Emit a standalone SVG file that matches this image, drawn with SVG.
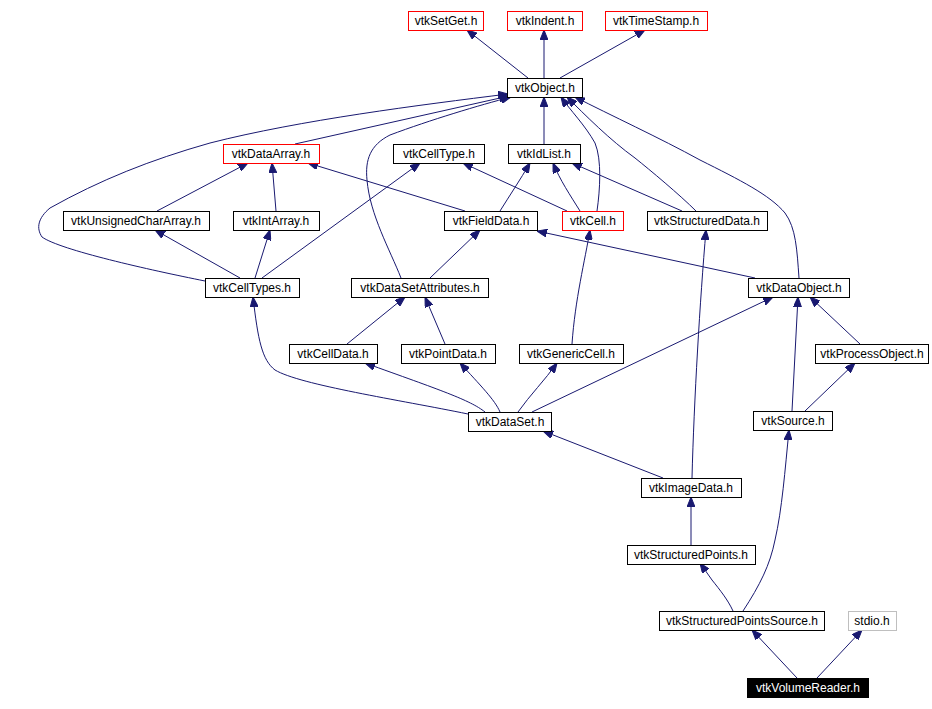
<svg xmlns="http://www.w3.org/2000/svg" width="932" height="709" viewBox="0 0 932 709">
<style>
.n rect{fill:#fff;stroke:#000;stroke-width:1}
.n.r rect{stroke:#ff0000}
.n.g rect{stroke:#bfbfbf}
.n.k rect{fill:#000}
.n text{font-family:"Liberation Sans",Arial,sans-serif;font-size:12px;fill:#000;text-anchor:middle}
.n.k text{fill:#fff}
#edges path{fill:none;stroke:#191970;stroke-width:1;marker-end:url(#a)}
</style>
<defs>
<marker id="a" viewBox="0 0 10 8" refX="10" refY="4" markerWidth="10" markerHeight="8" markerUnits="userSpaceOnUse" orient="auto"><path d="M0,0 L10,4 L0,8 z" fill="#191970" stroke="#191970"/></marker>
</defs>
<rect width="932" height="709" fill="#fff"/>
<g id="edges">
<path d="M528,78 L467,30"/>
<path d="M544,78 L544,30"/>
<path d="M560,78 L645,30"/>
<path d="M205,281 C150,270 60,250 42,237 C36,228 38,218 50,208 C100,180 150,160 210,143 C300,120 420,105 508,94"/>
<path d="M295,144 L509,96"/>
<path d="M401,278 C390,250 370,215 367,180 C365,160 370,145 390,135 C430,120 480,105 511,97"/>
<path d="M544,144 L544,97"/>
<path d="M597,211 C600,190 602,160 595,143 C585,125 570,110 561,97"/>
<path d="M696,211 C680,195 650,170 635,158 C610,140 585,115 567,97"/>
<path d="M799,278 C797,250 796,228 785,213 C770,195 740,180 700,160 C660,138 610,115 575,97"/>
<path d="M500,211 C510,195 520,180 530,163"/>
<path d="M580,211 C570,195 560,180 553,163"/>
<path d="M682,211 L572,163"/>
<path d="M567,211 L463,163"/>
<path d="M262,278 L420,163"/>
<path d="M157,211 L248,163"/>
<path d="M276,211 L272,163"/>
<path d="M465,211 L308,163"/>
<path d="M240,278 L155,230"/>
<path d="M255,278 L270,230"/>
<path d="M430,278 L480,230"/>
<path d="M755,278 L537,231"/>
<path d="M572,344 C575,300 585,260 590,230"/>
<path d="M692,478 C694,400 700,300 706,230"/>
<path d="M468,414 C400,400 300,385 275,370 C262,360 258,340 253,297"/>
<path d="M347,344 L405,297"/>
<path d="M445,344 L425,297"/>
<path d="M532,412 L773,297"/>
<path d="M792,411 L798,297"/>
<path d="M860,344 L810,297"/>
<path d="M805,411 L855,363"/>
<path d="M485,412 C470,400 440,390 365,363"/>
<path d="M500,412 C495,400 480,385 460,363"/>
<path d="M518,412 C530,395 545,380 557,363"/>
<path d="M663,478 L543,431"/>
<path d="M691,545 L691,497"/>
<path d="M743,611 C760,585 770,565 775,540 C782,510 785,470 789,430"/>
<path d="M733,611 C728,600 720,590 712,580 L700,563"/>
<path d="M797,678 L752,630"/>
<path d="M817,678 L862,630"/>
</g>
<g id="vtkSetGet" class="n r"><rect x="408.5" y="11.5" width="75" height="19"/><text x="446" y="25">vtkSetGet.h</text></g>
<g id="vtkIndent" class="n r"><rect x="507.5" y="11.5" width="75" height="19"/><text x="545" y="25">vtkIndent.h</text></g>
<g id="vtkTimeStamp" class="n r"><rect x="605.5" y="11.5" width="102" height="19"/><text x="656" y="25">vtkTimeStamp.h</text></g>
<g id="vtkObject" class="n"><rect x="507.5" y="78.5" width="75" height="19"/><text x="545" y="92">vtkObject.h</text></g>
<g id="vtkDataArray" class="n r"><rect x="223.5" y="144.5" width="96" height="19"/><text x="271" y="158">vtkDataArray.h</text></g>
<g id="vtkCellType" class="n"><rect x="393.5" y="144.5" width="91" height="19"/><text x="439" y="158">vtkCellType.h</text></g>
<g id="vtkIdList" class="n"><rect x="508.5" y="144.5" width="72" height="19"/><text x="544" y="158">vtkIdList.h</text></g>
<g id="vtkUnsignedCharArray" class="n"><rect x="63.5" y="211.5" width="146" height="19"/><text x="136" y="225">vtkUnsignedCharArray.h</text></g>
<g id="vtkIntArray" class="n"><rect x="233.5" y="211.5" width="86" height="19"/><text x="276" y="225">vtkIntArray.h</text></g>
<g id="vtkFieldData" class="n"><rect x="444.5" y="211.5" width="93" height="19"/><text x="491" y="225">vtkFieldData.h</text></g>
<g id="vtkCell" class="n r"><rect x="562.5" y="211.5" width="61" height="19"/><text x="593" y="225">vtkCell.h</text></g>
<g id="vtkStructuredData" class="n"><rect x="647.5" y="211.5" width="120" height="19"/><text x="707" y="225">vtkStructuredData.h</text></g>
<g id="vtkCellTypes" class="n"><rect x="205.5" y="278.5" width="94" height="19"/><text x="252" y="292">vtkCellTypes.h</text></g>
<g id="vtkDataSetAttributes" class="n"><rect x="351.5" y="278.5" width="137" height="19"/><text x="420" y="292">vtkDataSetAttributes.h</text></g>
<g id="vtkDataObject" class="n"><rect x="748.5" y="278.5" width="101" height="19"/><text x="799" y="292">vtkDataObject.h</text></g>
<g id="vtkCellData" class="n"><rect x="289.5" y="344.5" width="88" height="19"/><text x="333" y="358">vtkCellData.h</text></g>
<g id="vtkPointData" class="n"><rect x="401.5" y="344.5" width="94" height="19"/><text x="448" y="358">vtkPointData.h</text></g>
<g id="vtkGenericCell" class="n"><rect x="519.5" y="344.5" width="104" height="19"/><text x="571" y="358">vtkGenericCell.h</text></g>
<g id="vtkProcessObject" class="n"><rect x="815.5" y="344.5" width="113" height="19"/><text x="872" y="358">vtkProcessObject.h</text></g>
<g id="vtkDataSet" class="n"><rect x="468.5" y="412.5" width="83" height="19"/><text x="510" y="426">vtkDataSet.h</text></g>
<g id="vtkSource" class="n"><rect x="753.5" y="411.5" width="79" height="19"/><text x="793" y="425">vtkSource.h</text></g>
<g id="vtkImageData" class="n"><rect x="641.5" y="478.5" width="100" height="19"/><text x="691" y="492">vtkImageData.h</text></g>
<g id="vtkStructuredPoints" class="n"><rect x="627.5" y="545.5" width="128" height="19"/><text x="691" y="559">vtkStructuredPoints.h</text></g>
<g id="vtkStructuredPointsSource" class="n"><rect x="659.5" y="611.5" width="165" height="19"/><text x="742" y="625">vtkStructuredPointsSource.h</text></g>
<g id="stdio" class="n g"><rect x="848.5" y="611.5" width="48" height="19"/><text x="872" y="625">stdio.h</text></g>
<g id="vtkVolumeReader" class="n k"><rect x="747.5" y="678.5" width="121" height="19"/><text x="808" y="692">vtkVolumeReader.h</text></g>
</svg>
